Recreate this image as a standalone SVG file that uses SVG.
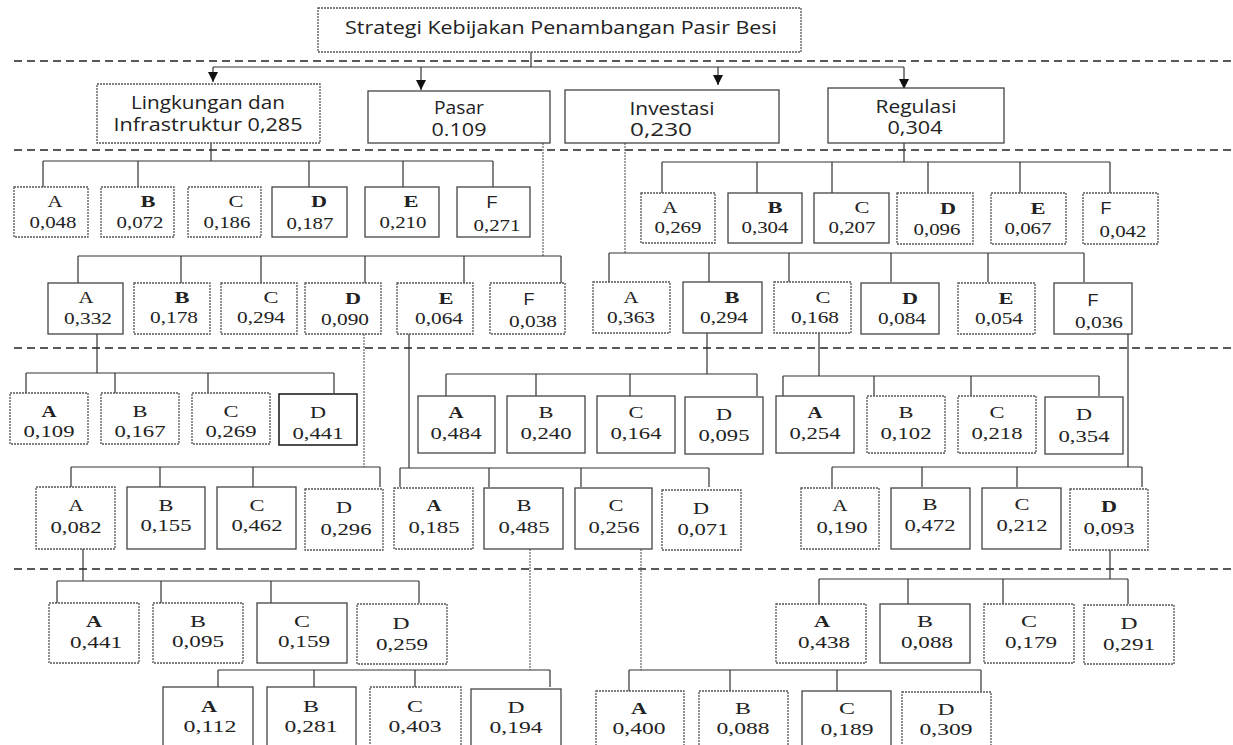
<svg xmlns="http://www.w3.org/2000/svg" width="1233" height="745" viewBox="0 0 1233 745">
<style>
.bg{fill:#fff}
.b{fill:#fff;stroke:#444;stroke-width:1.3}
.bd{fill:#fff;stroke:#555;stroke-width:1.3;stroke-dasharray:2 1}
.sep{stroke:#222;stroke-width:1.5;stroke-dasharray:8 5;fill:none}
.c{stroke:#333;stroke-width:1.2;fill:none}
.cd{stroke:#666;stroke-width:1.2;stroke-dasharray:2 1;fill:none}
.t{font-family:"Open Sans","Noto Sans","Liberation Sans",sans-serif;font-size:18px;fill:#222;text-anchor:middle}
.l{font-family:"Liberation Serif","DejaVu Serif",serif;font-size:17.5px;fill:#222;text-anchor:middle}
.lf{font-family:"Liberation Sans","DejaVu Sans",sans-serif;font-size:16px;fill:#222;text-anchor:middle}
.v{font-family:"Liberation Serif","DejaVu Serif",serif;font-size:17.5px;fill:#222;text-anchor:middle}
.bo{font-weight:bold}
</style>
<defs>
<marker id="ah" markerUnits="userSpaceOnUse" markerWidth="11" markerHeight="10" refX="10" refY="5" orient="auto">
<path d="M0,0 L10,5 L0,10 Z" fill="#111"/>
</marker>
</defs>
<rect class="bg" x="0" y="0" width="1233" height="745"/>

<g id="separators">
<line class="sep" x1="14" y1="61" x2="1233" y2="61"/>
<line class="sep" x1="14" y1="150" x2="1233" y2="150"/>
<line class="sep" x1="14" y1="348" x2="1233" y2="348"/>
<line class="sep" x1="14" y1="569" x2="1233" y2="569"/>
</g>

<g id="connectors">
<line class="c" x1="531" y1="52" x2="531" y2="67"/>
<line class="c" x1="213" y1="67" x2="904" y2="67"/>
<line class="c" x1="213" y1="67" x2="213" y2="82" marker-end="url(#ah)"/>
<line class="c" x1="421" y1="67" x2="421" y2="90" marker-end="url(#ah)"/>
<line class="c" x1="718" y1="67" x2="718" y2="85" marker-end="url(#ah)"/>
<line class="c" x1="904" y1="67" x2="904" y2="89" marker-end="url(#ah)"/>

<path class="c" d="M211,143V161M43,161H493M43,161V187M138,161V187M309,161V187M403,161V187M493,161V187"/>
<path class="c" d="M904,143V162M662,162H1110M662,162V193M757,162V193M832,162V193M928,162V193M1020,162V193M1110,162V193"/>
<path class="cd" d="M543,143V256"/>
<path class="c" d="M78,256H561M78,256V283M181,256V283M261,256V283M365,256V283M464,256V283M561,256V283"/>
<path class="cd" d="M625,143V253"/>
<path class="c" d="M609,253H1084M609,253V282M709,253V282M789,253V282M891,253V282M988,253V282M1084,253V282"/>

<path class="c" d="M97,334V373M26,373H334M26,373V393M115,373V393M208,373V393M334,373V393"/>
<path class="cd" d="M364,334V467"/>
<path class="c" d="M71,467H380M71,467V487M160,467V487M253,467V487M380,467V487"/>
<path class="c" d="M409,334V468M400,468H709M400,468V487M489,468V487M581,468V487M709,468V487"/>
<path class="c" d="M707,333V374M446,374H757M446,374V396M536,374V396M630,374V396M757,374V396"/>
<path class="c" d="M819,333V376M783,376H1099M783,376V396M874,376V396M971,376V396M1099,376V396"/>
<path class="c" d="M1128,333V467M832,467H1142M832,467V487M922,467V487M1017,467V487M1142,467V487"/>

<path class="c" d="M83,549V581M57,581H419M57,581V603M161,581V603M271,581V603M419,581V603"/>
<path class="cd" d="M530,549V670"/>
<path class="c" d="M218,670H550M218,670V687M314,670V687M415,670V687M550,670V687"/>
<path class="cd" d="M641,549V670"/>
<path class="c" d="M629,670H981M629,670V691M730,670V691M837,670V691M981,670V691"/>
<path class="c" d="M1110,549V579M819,579H1128M819,579V604M908,579V604M1003,579V604M1128,579V604"/>
</g>

<g id="goal">
<rect class="bd" x="318" y="8" width="483" height="44"/>
<text class="t" x="561" y="34" textLength="432" lengthAdjust="spacingAndGlyphs">Strategi Kebijakan  Penambangan Pasir Besi</text>
</g>

<g id="lingkungan">
<rect class="bd" x="97" y="84" width="223" height="59"/>
<text class="t" x="208" y="109" textLength="154" lengthAdjust="spacingAndGlyphs">Lingkungan dan</text>
<text class="t" x="208" y="131" textLength="189" lengthAdjust="spacingAndGlyphs">Infrastruktur 0,285</text>
</g>
<g id="pasar">
<rect class="b" x="368" y="91" width="182" height="52"/>
<text class="t" x="459" y="114" textLength="50" lengthAdjust="spacingAndGlyphs">Pasar</text>
<text class="t" x="459" y="136" textLength="55" lengthAdjust="spacingAndGlyphs">0.109</text>
</g>
<g id="investasi">
<rect class="b" x="565" y="90" width="214" height="53"/>
<text class="t" x="672" y="115" textLength="85" lengthAdjust="spacingAndGlyphs">Investasi</text>
<text class="t" x="661" y="136" textLength="62" lengthAdjust="spacingAndGlyphs">0,230</text>
</g>
<g id="regulasi">
<rect class="b" x="828" y="88" width="176" height="55"/>
<text class="t" x="916" y="113" textLength="81" lengthAdjust="spacingAndGlyphs">Regulasi</text>
<text class="t" x="915" y="134" textLength="55" lengthAdjust="spacingAndGlyphs">0,304</text>
</g>

<!-- Lingkungan children -->
<g id="L-A"><rect class="bd" x="14" y="187" width="74" height="50"/><text class="l" x="55" y="207" textLength="15" lengthAdjust="spacingAndGlyphs">A</text><text class="v" x="53" y="228" textLength="47" lengthAdjust="spacingAndGlyphs">0,048</text></g>
<g id="L-B"><rect class="bd" x="101" y="187" width="73" height="50"/><text class="l bo" x="148" y="207" textLength="15" lengthAdjust="spacingAndGlyphs">B</text><text class="v" x="140" y="228" textLength="47" lengthAdjust="spacingAndGlyphs">0,072</text></g>
<g id="L-C"><rect class="bd" x="188" y="187" width="73" height="50"/><text class="l" x="236" y="207" textLength="15" lengthAdjust="spacingAndGlyphs">C</text><text class="v" x="227" y="228" textLength="47" lengthAdjust="spacingAndGlyphs">0,186</text></g>
<g id="L-D"><rect class="b" x="272" y="187" width="75" height="50"/><text class="l bo" x="319" y="207" textLength="16" lengthAdjust="spacingAndGlyphs">D</text><text class="v" x="310" y="229" textLength="47" lengthAdjust="spacingAndGlyphs">0,187</text></g>
<g id="L-E"><rect class="b" x="365" y="187" width="74" height="50"/><text class="l bo" x="411" y="207" textLength="15" lengthAdjust="spacingAndGlyphs">E</text><text class="v" x="403" y="228" textLength="47" lengthAdjust="spacingAndGlyphs">0,210</text></g>
<g id="L-F"><rect class="b" x="457" y="187" width="73" height="50"/><text class="lf" x="492" y="208" textLength="11" lengthAdjust="spacingAndGlyphs">F</text><text class="v" x="497" y="231" textLength="47" lengthAdjust="spacingAndGlyphs">0,271</text></g>

<!-- Regulasi children -->
<g id="R-A"><rect class="bd" x="641" y="193" width="74" height="50"/><text class="l" x="670" y="213" textLength="15" lengthAdjust="spacingAndGlyphs">A</text><text class="v" x="678" y="233" textLength="47" lengthAdjust="spacingAndGlyphs">0,269</text></g>
<g id="R-B"><rect class="b" x="728" y="193" width="74" height="50"/><text class="l bo" x="775" y="213" textLength="15" lengthAdjust="spacingAndGlyphs">B</text><text class="v" x="765" y="233" textLength="47" lengthAdjust="spacingAndGlyphs">0,304</text></g>
<g id="R-C"><rect class="b" x="814" y="193" width="75" height="50"/><text class="l" x="862" y="213" textLength="15" lengthAdjust="spacingAndGlyphs">C</text><text class="v" x="852" y="233" textLength="47" lengthAdjust="spacingAndGlyphs">0,207</text></g>
<g id="R-D"><rect class="bd" x="897" y="193" width="76" height="51"/><text class="l bo" x="948" y="214" textLength="16" lengthAdjust="spacingAndGlyphs">D</text><text class="v" x="937" y="235" textLength="47" lengthAdjust="spacingAndGlyphs">0,096</text></g>
<g id="R-E"><rect class="bd" x="991" y="193" width="75" height="51"/><text class="l bo" x="1038" y="214" textLength="15" lengthAdjust="spacingAndGlyphs">E</text><text class="v" x="1028" y="234" textLength="47" lengthAdjust="spacingAndGlyphs">0,067</text></g>
<g id="R-F"><rect class="bd" x="1083" y="193" width="75" height="51"/><text class="lf" x="1106" y="214" textLength="11" lengthAdjust="spacingAndGlyphs">F</text><text class="v" x="1123" y="237" textLength="47" lengthAdjust="spacingAndGlyphs">0,042</text></g>

<!-- Pasar children -->
<g id="P-A"><rect class="b" x="48" y="283" width="75" height="51"/><text class="l" x="86" y="303" textLength="15" lengthAdjust="spacingAndGlyphs">A</text><text class="v" x="88" y="324" textLength="48" lengthAdjust="spacingAndGlyphs">0,332</text></g>
<g id="P-B"><rect class="bd" x="134" y="283" width="76" height="51"/><text class="l bo" x="182" y="303" textLength="15" lengthAdjust="spacingAndGlyphs">B</text><text class="v" x="174" y="323" textLength="48" lengthAdjust="spacingAndGlyphs">0,178</text></g>
<g id="P-C"><rect class="bd" x="221" y="283" width="76" height="51"/><text class="l" x="271" y="303" textLength="15" lengthAdjust="spacingAndGlyphs">C</text><text class="v" x="261" y="323" textLength="48" lengthAdjust="spacingAndGlyphs">0,294</text></g>
<g id="P-D"><rect class="bd" x="305" y="283" width="76" height="51"/><text class="l bo" x="353" y="304" textLength="16" lengthAdjust="spacingAndGlyphs">D</text><text class="v" x="345" y="325" textLength="48" lengthAdjust="spacingAndGlyphs">0,090</text></g>
<g id="P-E"><rect class="bd" x="397" y="283" width="76" height="51"/><text class="l bo" x="446" y="304" textLength="15" lengthAdjust="spacingAndGlyphs">E</text><text class="v" x="439" y="324" textLength="48" lengthAdjust="spacingAndGlyphs">0,064</text></g>
<g id="P-F"><rect class="bd" x="490" y="283" width="75" height="51"/><text class="lf" x="529" y="305" textLength="11" lengthAdjust="spacingAndGlyphs">F</text><text class="v" x="533" y="327" textLength="48" lengthAdjust="spacingAndGlyphs">0,038</text></g>

<!-- Investasi children -->
<g id="I-A"><rect class="bd" x="593" y="282" width="77" height="51"/><text class="l" x="631" y="303" textLength="15" lengthAdjust="spacingAndGlyphs">A</text><text class="v" x="631" y="323" textLength="48" lengthAdjust="spacingAndGlyphs">0,363</text></g>
<g id="I-B"><rect class="b" x="683" y="282" width="79" height="51"/><text class="l bo" x="732" y="303" textLength="15" lengthAdjust="spacingAndGlyphs">B</text><text class="v" x="724" y="323" textLength="48" lengthAdjust="spacingAndGlyphs">0,294</text></g>
<g id="I-C"><rect class="bd" x="774" y="282" width="77" height="51"/><text class="l" x="823" y="303" textLength="15" lengthAdjust="spacingAndGlyphs">C</text><text class="v" x="815" y="323" textLength="48" lengthAdjust="spacingAndGlyphs">0,168</text></g>
<g id="I-D"><rect class="b" x="861" y="283" width="78" height="51"/><text class="l bo" x="910" y="304" textLength="16" lengthAdjust="spacingAndGlyphs">D</text><text class="v" x="902" y="324" textLength="48" lengthAdjust="spacingAndGlyphs">0,084</text></g>
<g id="I-E"><rect class="bd" x="958" y="283" width="77" height="51"/><text class="l bo" x="1006" y="304" textLength="15" lengthAdjust="spacingAndGlyphs">E</text><text class="v" x="999" y="324" textLength="48" lengthAdjust="spacingAndGlyphs">0,054</text></g>
<g id="I-F"><rect class="b" x="1054" y="283" width="78" height="51"/><text class="lf" x="1093" y="306" textLength="11" lengthAdjust="spacingAndGlyphs">F</text><text class="v" x="1099" y="328" textLength="48" lengthAdjust="spacingAndGlyphs">0,036</text></g>

<!-- Pasar A children -->
<g id="PA-A"><rect class="bd" x="10" y="393" width="78" height="51"/><text class="l bo" x="49" y="417" textLength="15" lengthAdjust="spacingAndGlyphs">A</text><text class="v" x="49" y="437" textLength="51" lengthAdjust="spacingAndGlyphs">0,109</text></g>
<g id="PA-B"><rect class="bd" x="101" y="393" width="78" height="51"/><text class="l" x="140" y="417" textLength="15" lengthAdjust="spacingAndGlyphs">B</text><text class="v" x="140" y="437" textLength="51" lengthAdjust="spacingAndGlyphs">0,167</text></g>
<g id="PA-C"><rect class="bd" x="192" y="393" width="78" height="51"/><text class="l" x="231" y="417" textLength="15" lengthAdjust="spacingAndGlyphs">C</text><text class="v" x="231" y="437" textLength="51" lengthAdjust="spacingAndGlyphs">0,269</text></g>
<g id="PA-D"><rect class="b" x="279" y="394" width="78" height="51" style="stroke:#222;stroke-width:1.6"/><text class="l" x="318" y="418" textLength="16" lengthAdjust="spacingAndGlyphs">D</text><text class="v" x="318" y="439" textLength="51" lengthAdjust="spacingAndGlyphs">0,441</text></g>

<!-- Investasi B children -->
<g id="IB-A"><rect class="b" x="418" y="396" width="77" height="57"/><text class="l bo" x="456" y="418" textLength="15" lengthAdjust="spacingAndGlyphs">A</text><text class="v" x="456" y="439" textLength="51" lengthAdjust="spacingAndGlyphs">0,484</text></g>
<g id="IB-B"><rect class="b" x="507" y="396" width="78" height="57"/><text class="l" x="546" y="418" textLength="15" lengthAdjust="spacingAndGlyphs">B</text><text class="v" x="546" y="439" textLength="51" lengthAdjust="spacingAndGlyphs">0,240</text></g>
<g id="IB-C"><rect class="b" x="597" y="396" width="78" height="57"/><text class="l" x="636" y="418" textLength="15" lengthAdjust="spacingAndGlyphs">C</text><text class="v" x="636" y="439" textLength="51" lengthAdjust="spacingAndGlyphs">0,164</text></g>
<g id="IB-D"><rect class="b" x="685" y="397" width="78" height="57"/><text class="l" x="724" y="420" textLength="16" lengthAdjust="spacingAndGlyphs">D</text><text class="v" x="724" y="441" textLength="51" lengthAdjust="spacingAndGlyphs">0,095</text></g>

<!-- Investasi C children -->
<g id="IC-A"><rect class="b" x="776" y="396" width="78" height="57"/><text class="l bo" x="815" y="418" textLength="15" lengthAdjust="spacingAndGlyphs">A</text><text class="v" x="815" y="439" textLength="51" lengthAdjust="spacingAndGlyphs">0,254</text></g>
<g id="IC-B"><rect class="bd" x="867" y="396" width="78" height="57"/><text class="l" x="906" y="418" textLength="15" lengthAdjust="spacingAndGlyphs">B</text><text class="v" x="906" y="439" textLength="51" lengthAdjust="spacingAndGlyphs">0,102</text></g>
<g id="IC-C"><rect class="bd" x="958" y="396" width="78" height="57"/><text class="l" x="997" y="418" textLength="15" lengthAdjust="spacingAndGlyphs">C</text><text class="v" x="997" y="439" textLength="51" lengthAdjust="spacingAndGlyphs">0,218</text></g>
<g id="IC-D"><rect class="b" x="1045" y="397" width="78" height="57"/><text class="l" x="1084" y="420" textLength="16" lengthAdjust="spacingAndGlyphs">D</text><text class="v" x="1084" y="442" textLength="51" lengthAdjust="spacingAndGlyphs">0,354</text></g>

<!-- Pasar D children -->
<g id="PD-A"><rect class="bd" x="36" y="487" width="79" height="62"/><text class="l" x="76" y="511" textLength="15" lengthAdjust="spacingAndGlyphs">A</text><text class="v" x="76" y="533" textLength="51" lengthAdjust="spacingAndGlyphs">0,082</text></g>
<g id="PD-B"><rect class="b" x="127" y="487" width="78" height="62"/><text class="l" x="166" y="511" textLength="15" lengthAdjust="spacingAndGlyphs">B</text><text class="v" x="166" y="531" textLength="51" lengthAdjust="spacingAndGlyphs">0,155</text></g>
<g id="PD-C"><rect class="b" x="217" y="487" width="79" height="62"/><text class="l" x="257" y="511" textLength="15" lengthAdjust="spacingAndGlyphs">C</text><text class="v" x="257" y="531" textLength="51" lengthAdjust="spacingAndGlyphs">0,462</text></g>
<g id="PD-D"><rect class="bd" x="305" y="489" width="78" height="61"/><text class="l" x="344" y="513" textLength="16" lengthAdjust="spacingAndGlyphs">D</text><text class="v" x="346" y="535" textLength="51" lengthAdjust="spacingAndGlyphs">0,296</text></g>

<!-- Pasar E children -->
<g id="PE-A"><rect class="bd" x="394" y="488" width="79" height="61"/><text class="l bo" x="434" y="511" textLength="15" lengthAdjust="spacingAndGlyphs">A</text><text class="v" x="434" y="533" textLength="51" lengthAdjust="spacingAndGlyphs">0,185</text></g>
<g id="PE-B"><rect class="b" x="484" y="488" width="79" height="61"/><text class="l" x="524" y="511" textLength="15" lengthAdjust="spacingAndGlyphs">B</text><text class="v" x="524" y="533" textLength="51" lengthAdjust="spacingAndGlyphs">0,485</text></g>
<g id="PE-C"><rect class="b" x="575" y="488" width="77" height="61"/><text class="l" x="616" y="511" textLength="15" lengthAdjust="spacingAndGlyphs">C</text><text class="v" x="614" y="533" textLength="51" lengthAdjust="spacingAndGlyphs">0,256</text></g>
<g id="PE-D"><rect class="bd" x="662" y="490" width="79" height="60"/><text class="l" x="701" y="514" textLength="16" lengthAdjust="spacingAndGlyphs">D</text><text class="v" x="703" y="535" textLength="51" lengthAdjust="spacingAndGlyphs">0,071</text></g>

<!-- Investasi F children -->
<g id="IF-A"><rect class="bd" x="801" y="488" width="78" height="61"/><text class="l" x="840" y="511" textLength="15" lengthAdjust="spacingAndGlyphs">A</text><text class="v" x="842" y="533" textLength="51" lengthAdjust="spacingAndGlyphs">0,190</text></g>
<g id="IF-B"><rect class="b" x="891" y="488" width="79" height="61"/><text class="l" x="930" y="510" textLength="15" lengthAdjust="spacingAndGlyphs">B</text><text class="v" x="930" y="531" textLength="51" lengthAdjust="spacingAndGlyphs">0,472</text></g>
<g id="IF-C"><rect class="b" x="982" y="488" width="79" height="61"/><text class="l" x="1022" y="510" textLength="15" lengthAdjust="spacingAndGlyphs">C</text><text class="v" x="1022" y="531" textLength="51" lengthAdjust="spacingAndGlyphs">0,212</text></g>
<g id="IF-D"><rect class="bd" x="1070" y="489" width="78" height="61"/><text class="l bo" x="1109" y="512" textLength="16" lengthAdjust="spacingAndGlyphs">D</text><text class="v" x="1109" y="534" textLength="51" lengthAdjust="spacingAndGlyphs">0,093</text></g>

<!-- Pasar D-A children -->
<g id="PDA-A"><rect class="bd" x="49" y="603" width="90" height="60"/><text class="l bo" x="94" y="627" textLength="16" lengthAdjust="spacingAndGlyphs">A</text><text class="v" x="96" y="648" textLength="52" lengthAdjust="spacingAndGlyphs">0,441</text></g>
<g id="PDA-B"><rect class="bd" x="153" y="603" width="90" height="60"/><text class="l" x="198" y="627" textLength="16" lengthAdjust="spacingAndGlyphs">B</text><text class="v" x="198" y="647" textLength="52" lengthAdjust="spacingAndGlyphs">0,095</text></g>
<g id="PDA-C"><rect class="b" x="257" y="603" width="90" height="60"/><text class="l" x="302" y="627" textLength="16" lengthAdjust="spacingAndGlyphs">C</text><text class="v" x="304" y="647" textLength="52" lengthAdjust="spacingAndGlyphs">0,159</text></g>
<g id="PDA-D"><rect class="bd" x="357" y="604" width="90" height="60"/><text class="l" x="401" y="629" textLength="17" lengthAdjust="spacingAndGlyphs">D</text><text class="v" x="402" y="650" textLength="52" lengthAdjust="spacingAndGlyphs">0,259</text></g>

<!-- Investasi F-D children -->
<g id="IFD-A"><rect class="bd" x="776" y="604" width="90" height="59"/><text class="l bo" x="822" y="627" textLength="16" lengthAdjust="spacingAndGlyphs">A</text><text class="v" x="824" y="648" textLength="52" lengthAdjust="spacingAndGlyphs">0,438</text></g>
<g id="IFD-B"><rect class="b" x="880" y="604" width="90" height="59"/><text class="l" x="925" y="627" textLength="16" lengthAdjust="spacingAndGlyphs">B</text><text class="v" x="927" y="648" textLength="52" lengthAdjust="spacingAndGlyphs">0,088</text></g>
<g id="IFD-C"><rect class="bd" x="984" y="604" width="90" height="59"/><text class="l" x="1029" y="627" textLength="16" lengthAdjust="spacingAndGlyphs">C</text><text class="v" x="1031" y="648" textLength="52" lengthAdjust="spacingAndGlyphs">0,179</text></g>
<g id="IFD-D"><rect class="bd" x="1084" y="605" width="90" height="59"/><text class="l" x="1129" y="629" textLength="17" lengthAdjust="spacingAndGlyphs">D</text><text class="v" x="1129" y="650" textLength="52" lengthAdjust="spacingAndGlyphs">0,291</text></g>

<!-- Pasar E-B children -->
<g id="PEB-A"><rect class="b" x="163" y="687" width="90" height="62"/><text class="l bo" x="209" y="712" textLength="16" lengthAdjust="spacingAndGlyphs">A</text><text class="v" x="210" y="732" textLength="53" lengthAdjust="spacingAndGlyphs">0,112</text></g>
<g id="PEB-B"><rect class="b" x="267" y="687" width="89" height="62"/><text class="l" x="311" y="712" textLength="16" lengthAdjust="spacingAndGlyphs">B</text><text class="v" x="311" y="732" textLength="53" lengthAdjust="spacingAndGlyphs">0,281</text></g>
<g id="PEB-C"><rect class="bd" x="370" y="687" width="91" height="62"/><text class="l" x="415" y="712" textLength="16" lengthAdjust="spacingAndGlyphs">C</text><text class="v" x="415" y="732" textLength="53" lengthAdjust="spacingAndGlyphs">0,403</text></g>
<g id="PEB-D"><rect class="b" x="471" y="689" width="90" height="60"/><text class="l" x="516" y="713" textLength="17" lengthAdjust="spacingAndGlyphs">D</text><text class="v" x="516" y="733" textLength="53" lengthAdjust="spacingAndGlyphs">0,194</text></g>

<!-- Pasar E-C children -->
<g id="PEC-A"><rect class="bd" x="596" y="691" width="88" height="58"/><text class="l bo" x="639" y="714" textLength="16" lengthAdjust="spacingAndGlyphs">A</text><text class="v" x="639" y="734" textLength="53" lengthAdjust="spacingAndGlyphs">0,400</text></g>
<g id="PEC-B"><rect class="bd" x="699" y="691" width="89" height="58"/><text class="l" x="743" y="714" textLength="16" lengthAdjust="spacingAndGlyphs">B</text><text class="v" x="743" y="734" textLength="53" lengthAdjust="spacingAndGlyphs">0,088</text></g>
<g id="PEC-C"><rect class="b" x="802" y="691" width="89" height="58"/><text class="l" x="847" y="714" textLength="16" lengthAdjust="spacingAndGlyphs">C</text><text class="v" x="847" y="735" textLength="53" lengthAdjust="spacingAndGlyphs">0,189</text></g>
<g id="PEC-D"><rect class="bd" x="902" y="692" width="89" height="57"/><text class="l" x="946" y="715" textLength="17" lengthAdjust="spacingAndGlyphs">D</text><text class="v" x="946" y="735" textLength="53" lengthAdjust="spacingAndGlyphs">0,309</text></g>
</svg>
